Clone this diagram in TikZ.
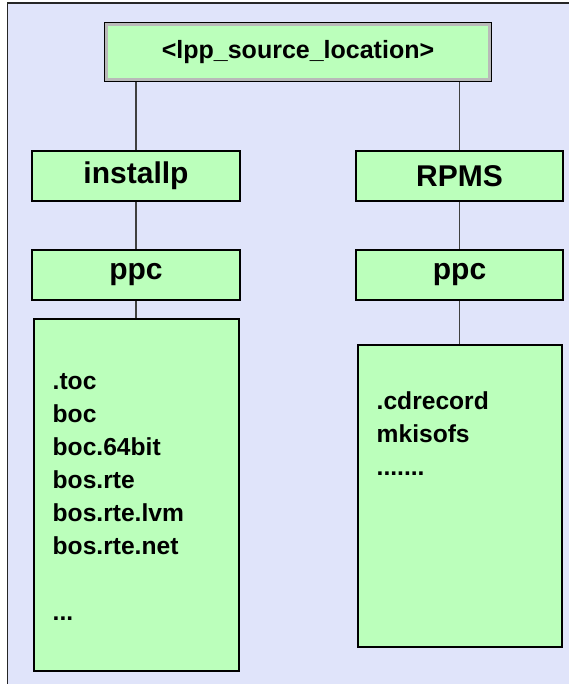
\documentclass[tikz,border=0pt]{standalone}
\usepackage{fontspec}
\setmainfont{Liberation Sans}
\usetikzlibrary{positioning,calc}

\definecolor{leafgreen}{RGB}{187,255,187}
\definecolor{paneblue}{RGB}{224,228,250}

\begin{document}
\begin{tikzpicture}[
    x=1pt, y=-1pt,
    % Define styles
    dirbox/.style={rectangle, draw, line width=2pt, fill=leafgreen, minimum width=207pt, minimum height=50pt, inner sep=0pt, font=\fontsize{30}{36}\selectfont\bfseries},
    rootbox/.style={dirbox, minimum width=386pt, minimum height=58pt, font=\fontsize{25}{30}\selectfont\bfseries},
    listbox/.style={rectangle, draw, line width=2pt, fill=leafgreen, minimum width=205pt, inner sep=0pt},
    listtext/.style={align=left, inner sep=0pt, font=\fontsize{24.6}{33}\selectfont\bfseries},
    branch/.style={draw=black!75, line width=1.2pt},
    node distance=47pt and 114pt
]

% Background pane
\useasboundingbox (0,0) rectangle (568,684);
\fill[paneblue] (7.5,3) rectangle (575,690);
\draw[black!85, line width=1.2pt] (575,3) -- (7.5,3) -- (7.5,690);

% Root
\node[rootbox] (root) at (298,52) {<lpp\_source\_location>};
\draw[gray!55, line width=3pt] ([shift={(2.5pt,-2.5pt)}]root.north west) rectangle ([shift={(-2.5pt,2.5pt)}]root.south east);

% Subdirectories
\node[dirbox, minimum width=208pt] (installp) at (136,176) {installp};
\node[dirbox, right=114pt of installp] (rpms) {RPMS};
\node[dirbox, minimum width=208pt, below=of installp] (ppcl) {ppc};
\node[dirbox, below=of rpms] (ppcr) {ppc};

% File lists
\node[listbox, minimum height=352pt, below=17pt of ppcl] (lfiles) {};
\node[listbox, minimum width=204pt, minimum height=302pt, below=43pt of ppcr] (rfiles) {};
\node[listtext, below right=55pt and 20pt of lfiles.north west] (ltext) {.toc\\boc\\boc.64bit\\bos.rte\\bos.rte.lvm\\bos.rte.net\\[33pt]...};
\node[listtext, below right=47pt and 20pt of rfiles.north west] (rtext) {.cdrecord\\mkisofs\\.......};

% Connections
\draw[branch] (installp.north) -- (installp.north |- root.south);
\draw[branch] (rpms.north) -- (rpms.north |- root.south);
\draw[branch] (installp) -- (ppcl);
\draw[branch] (rpms) -- (ppcr);
\draw[branch] (ppcl) -- (lfiles);
\draw[branch] (ppcr) -- (rfiles);

\end{tikzpicture}
\end{document}
